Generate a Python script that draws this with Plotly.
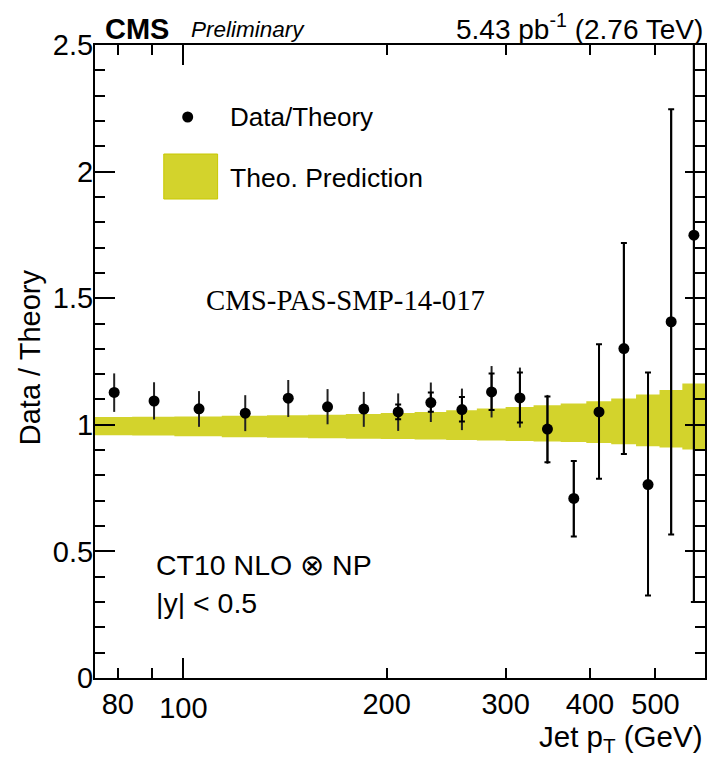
import math
import plotly.graph_objects as go

# ---------------- data ----------------
bin_edges = [74, 84, 97, 114, 133, 153, 174, 196, 220, 245, 272, 300, 330, 362, 395, 430, 468, 507, 548, 592]
pt_centers = [79, 90.5, 105.5, 123.5, 143, 163.5, 185, 208, 232.5, 258.5, 286, 315, 346, 378.5, 412.5, 449, 487.5, 527.5, 570]
ratio = [1.128, 1.094, 1.063, 1.046, 1.105, 1.071, 1.062, 1.051, 1.088, 1.060, 1.130, 1.106, 0.983, 0.709, 1.051, 1.301, 0.764, 1.407, 1.749]
# total uncertainty (no caps)
tot_hi = [1.203, 1.168, 1.133, 1.117, 1.177, 1.141, 1.130, 1.124, 1.167, 1.143, 1.232, 1.226, 1.118, 0.857, 1.318, 1.718, 1.207, 2.246, 2.9]
tot_lo = [1.051, 1.021, 0.992, 0.975, 1.031, 1.002, 0.992, 0.976, 1.011, 0.979, 1.029, 0.989, 0.846, 0.559, 0.787, 0.885, 0.326, 0.567, 0.300]
# statistical uncertainty (with caps)
stat_hi = [1.140, 1.106, 1.075, 1.058, 1.117, 1.083, 1.074, 1.080, 1.128, 1.110, 1.203, 1.207, 1.112, 0.857, 1.318, 1.718, 1.207, 2.246, 2.9]
stat_lo = [1.116, 1.082, 1.051, 1.034, 1.093, 1.059, 1.050, 1.022, 1.052, 1.013, 1.058, 1.009, 0.852, 0.559, 0.787, 0.885, 0.326, 0.567, 0.300]
# theory uncertainty band per bin
band_hi = [1.031, 1.032, 1.033, 1.036, 1.038, 1.040, 1.043, 1.047, 1.051, 1.057, 1.064, 1.070, 1.077, 1.084, 1.093, 1.104, 1.120, 1.137, 1.163]
band_lo = [0.959, 0.958, 0.955, 0.951, 0.949, 0.947, 0.945, 0.944, 0.942, 0.940, 0.938, 0.936, 0.934, 0.932, 0.928, 0.923, 0.915, 0.910, 0.902]

x_major = [100]
x_major_text = ["100"]
x_minor = [80, 90, 200, 300, 400, 500]
x_label_vals = [80, 200, 300, 400, 500]
x_label_text = ["80", "200", "300", "400", "500"]
y_major = [0, 0.5, 1, 1.5, 2, 2.5]
y_major_text = ["0", "0.5", "1", "1.5", "2", "2.5"]
y_minor = [round(0.1 * i, 1) for i in range(26) if i % 5 != 0]

BAND = "#d3d32c"
FONT = "Liberation Sans, Arial, Helvetica, sans-serif"

# ---------------- figure ----------------
fig = go.Figure()

fig.add_trace(go.Scatter(
    x=bin_edges, y=band_lo + [band_lo[-1]], mode="lines", line=dict(width=0, shape="hv"),
    showlegend=False, hoverinfo="skip"))
fig.add_trace(go.Scatter(
    x=bin_edges, y=band_hi + [band_hi[-1]], mode="lines", line=dict(width=0, shape="hv"),
    fill="tonexty", fillcolor=BAND, showlegend=False, hoverinfo="skip"))

# total errors (no caps)
fig.add_trace(go.Scatter(
    x=pt_centers, y=ratio, mode="markers", marker=dict(size=1, color="rgba(0,0,0,0)"),
    error_y=dict(type="data", symmetric=False,
                 array=[h - r for h, r in zip(tot_hi, ratio)],
                 arrayminus=[r - l for l, r in zip(tot_lo, ratio)],
                 color="#222222", thickness=2, width=0),
    showlegend=False, hoverinfo="skip"))
# stat errors (caps) + markers
fig.add_trace(go.Scatter(
    x=pt_centers, y=ratio, mode="markers", marker=dict(size=11, color="black"),
    error_y=dict(type="data", symmetric=False,
                 array=[h - r for h, r in zip(stat_hi, ratio)],
                 arrayminus=[r - l for l, r in zip(stat_lo, ratio)],
                 color="black", thickness=2, width=3),
    showlegend=False))
# invisible copy on the overlay axes (labels / mirrored ticks)
fig.add_trace(go.Scatter(
    x=pt_centers, y=ratio, xaxis="x2", yaxis="y2", mode="markers",
    marker=dict(size=1, color="rgba(0,0,0,0)"), showlegend=False, hoverinfo="skip"))

xr = [math.log10(bin_edges[0]), math.log10(bin_edges[-1])]
tick_common = dict(tickwidth=1.5, tickcolor="black", showgrid=False, zeroline=False)

fig.update_layout(
    width=711, height=761,
    margin=dict(l=95, r=4, t=45, b=83),
    paper_bgcolor="white", plot_bgcolor="white",
    font=dict(family=FONT, color="black"),
    xaxis=dict(type="log", range=xr, tickmode="array", tickvals=x_major, ticktext=x_major_text,
               ticks="inside", ticklen=20,
               minor=dict(tickmode="array", tickvals=x_minor, ticks="inside", ticklen=10,
                          tickwidth=1.5, tickcolor="black", showgrid=False),
               showline=True, linecolor="black", linewidth=2, mirror="ticks",
               tickfont=dict(size=29, family=FONT), ticklabelstandoff=3, **tick_common),
    xaxis2=dict(type="log", range=xr, overlaying="x", side="bottom", anchor="y2", tickmode="array",
                tickvals=x_label_vals, ticktext=x_label_text, ticks="", showline=False,
                tickfont=dict(size=29, family=FONT), ticklabelstandoff=6, **tick_common),
    yaxis=dict(range=[0, 2.5], tickmode="array", tickvals=y_major, ticktext=y_major_text,
               ticks="inside", ticklen=20,
               minor=dict(tickmode="array", tickvals=y_minor, ticks="inside", ticklen=10,
                          tickwidth=1.5, tickcolor="black", showgrid=False),
               showline=True, linecolor="black", linewidth=2, mirror="ticks",
               tickfont=dict(size=29, family=FONT), ticklabelstandoff=-6, **tick_common),
    yaxis2=dict(range=[0, 2.5], overlaying="y", side="right", anchor="x2", tickmode="array",
                tickvals=y_major, ticktext=[""] * len(y_major), showticklabels=False,
                ticks="inside", ticklen=20,
                minor=dict(tickmode="array", tickvals=y_minor, ticks="inside", ticklen=10,
                           tickwidth=1.5, tickcolor="black", showgrid=False),
                showline=True, linecolor="black", linewidth=2, **tick_common),
)

def px(xp):
    return (xp - 95) / 612.0

def py(yp):
    return (678 - yp) / 633.0

ann = []
ann.append(dict(text="Data / Theory", textangle=-90, x=px(30), y=py(357), xref="paper", yref="paper",
                xanchor="center", yanchor="middle", showarrow=False, font=dict(size=29, family=FONT)))
ann.append(dict(text="Jet p<sub>T</sub> (GeV)", x=px(706), y=py(738), xref="paper", yref="paper",
                xanchor="right", yanchor="middle", showarrow=False, font=dict(size=29.5, family=FONT)))
ann.append(dict(text="<b>CMS</b>", x=px(103), y=py(29), xref="paper", yref="paper",
                xanchor="left", yanchor="middle", showarrow=False, font=dict(size=29, family=FONT)))
ann.append(dict(text="<i>Preliminary</i>", x=px(189), y=py(29), xref="paper", yref="paper",
                xanchor="left", yanchor="middle", showarrow=False, font=dict(size=22.5, family=FONT)))
ann.append(dict(text="5.43 pb<sup>-1</sup> (2.76 TeV)", x=px(455), y=py(27), xref="paper", yref="paper",
                xanchor="left", yanchor="middle", showarrow=False, font=dict(size=28, family=FONT)))
ann.append(dict(text="Data/Theory", x=px(228), y=py(117), xref="paper", yref="paper",
                xanchor="left", yanchor="middle", showarrow=False, font=dict(size=26, family=FONT)))
ann.append(dict(text="Theo. Prediction", x=px(228), y=py(178), xref="paper", yref="paper",
                xanchor="left", yanchor="middle", showarrow=False, font=dict(size=26.5, family=FONT)))
ann.append(dict(text="CMS-PAS-SMP-14-017", x=px(346), y=py(300), xref="paper", yref="paper",
                xanchor="center", yanchor="middle", showarrow=False,
                font=dict(size=28.8, family="Liberation Serif, Times New Roman, serif")))
ann.append(dict(text="CT10 NLO \u2297 NP", x=px(154), y=py(565), xref="paper", yref="paper",
                xanchor="left", yanchor="middle", showarrow=False, font=dict(size=28.5, family=FONT)))
ann.append(dict(text="|y| < 0.5", x=px(154), y=py(603), xref="paper", yref="paper",
                xanchor="left", yanchor="middle", showarrow=False, font=dict(size=28.5, family=FONT)))
fig.update_layout(annotations=ann)

shapes = []
shapes.append(dict(type="circle", xref="paper", yref="paper",
                   x0=px(182.5), x1=px(193.5), y0=py(122.5), y1=py(111.5),
                   fillcolor="black", line=dict(width=0)))
shapes.append(dict(type="rect", xref="paper", yref="paper",
                   x0=px(164), x1=px(218), y0=py(199), y1=py(154),
                   fillcolor=BAND, line=dict(width=1, color="#c8c800")))
fig.update_layout(shapes=shapes)

fig.write_html(
    "out.html",
    config={"displayModeBar": False},
    post_script="document.body.style.margin='0';document.body.style.overflow='hidden';",
)
